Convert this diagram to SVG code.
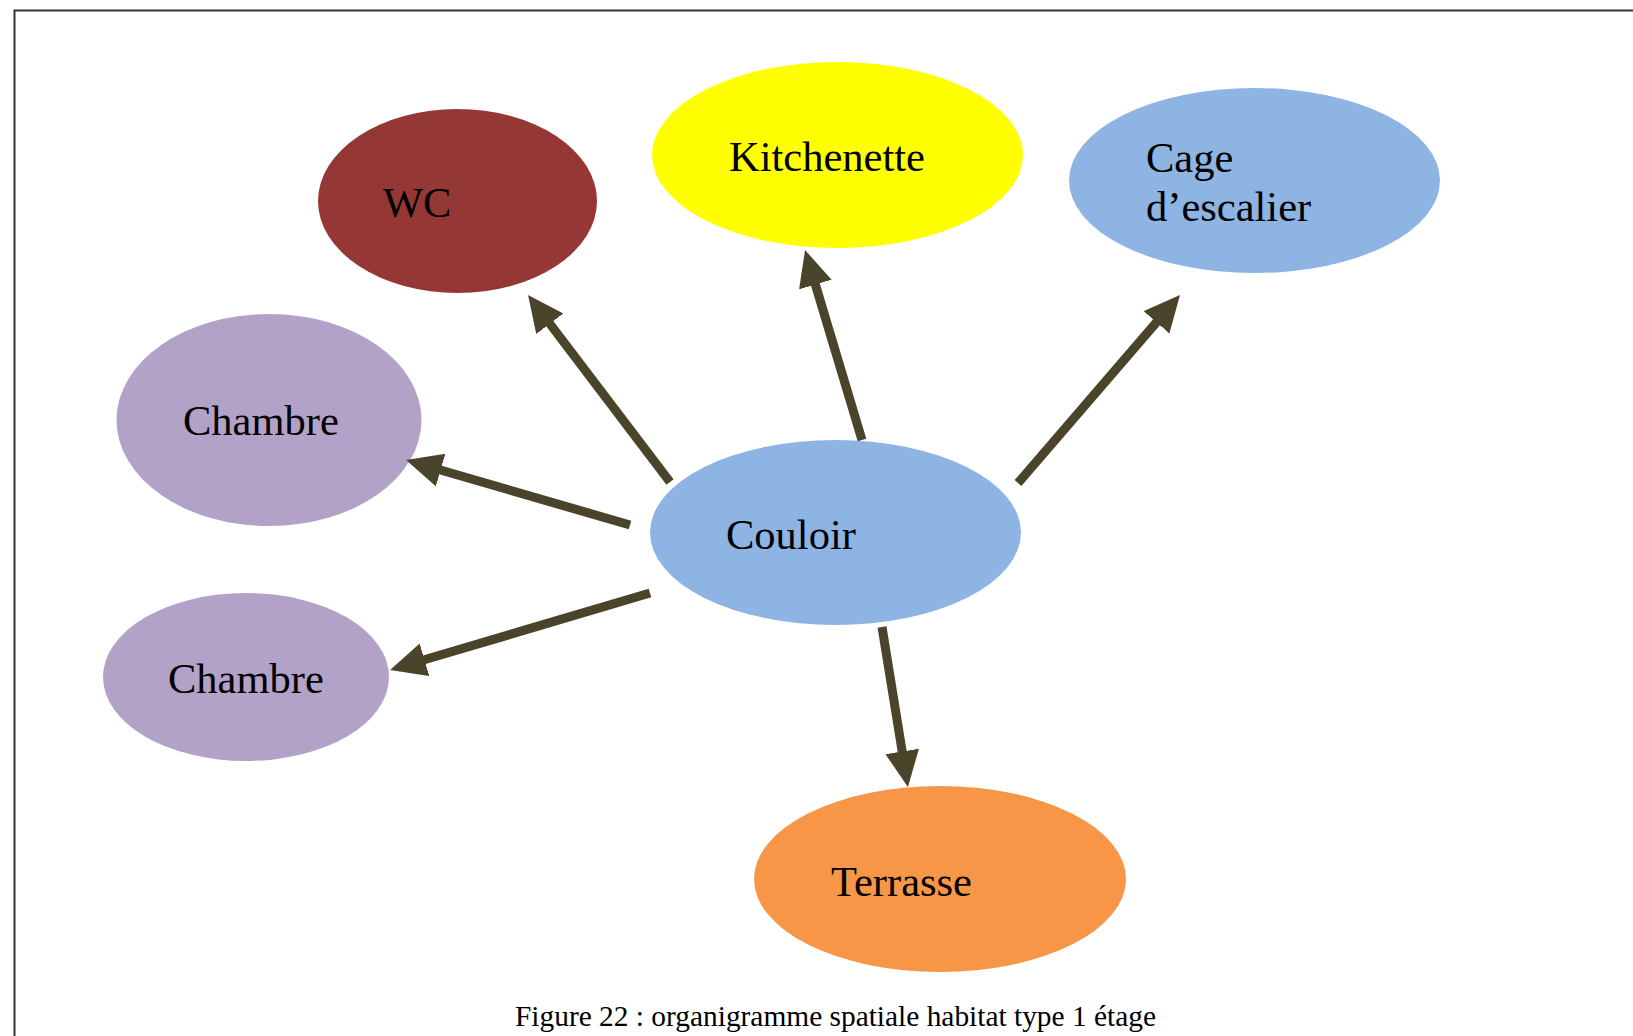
<svg xmlns="http://www.w3.org/2000/svg" width="1633" height="1036" viewBox="0 0 1633 1036">
<style>
.lbl{font-family:"Liberation Serif","Times New Roman",serif;font-size:42.5px;fill:#000}
.cap{font-family:"Liberation Serif","Times New Roman",serif;font-size:29.4px;fill:#000}
.arr{stroke:#4A452A;stroke-width:9;fill:none;marker-end:url(#ah)}
</style>
<defs>
<marker id="ah" markerUnits="userSpaceOnUse" markerWidth="40" markerHeight="36" refX="2" refY="17" orient="auto">
<path d="M0,0 L36,17 L0,34 z" fill="#4A452A"/>
</marker>
</defs>
<rect width="1633" height="1036" fill="#fff"/>
<path d="M14.5,1036 L14.5,10.5 L1633,10.5" fill="none" stroke="#333" stroke-width="2"/>
<g id="wc"><ellipse cx="457.5" cy="201" rx="139.5" ry="92" fill="#953735"/><text class="lbl" x="383" y="217">WC</text></g>
<g id="kitchenette"><ellipse cx="837.5" cy="155" rx="185.5" ry="93" fill="#FFFF00"/><text class="lbl" x="729" y="171">Kitchenette</text></g>
<g id="cage"><ellipse cx="1254.5" cy="180.5" rx="185.5" ry="92.5" fill="#8EB4E3"/><text class="lbl" x="1146" y="172">Cage</text><text class="lbl" x="1146" y="221">d’escalier</text></g>
<g id="chambre1"><ellipse cx="269" cy="420" rx="152.5" ry="106" fill="#B3A2C7"/><text class="lbl" x="183" y="435">Chambre</text></g>
<g id="couloir"><ellipse cx="835.5" cy="532.5" rx="185.5" ry="92.5" fill="#8EB4E3"/><text class="lbl" x="726" y="549">Couloir</text></g>
<g id="chambre2"><ellipse cx="246" cy="677" rx="143" ry="84" fill="#B3A2C7"/><text class="lbl" x="168" y="693">Chambre</text></g>
<g id="terrasse"><ellipse cx="940" cy="879" rx="186" ry="93" fill="#F79646"/><text class="lbl" x="831" y="896">Terrasse</text></g>
<g id="connectors">
<line class="arr" x1="670" y1="482" x2="548.6" y2="322.1"/>
<line class="arr" x1="630" y1="525" x2="438.7" y2="469.5"/>
<line class="arr" x1="650" y1="593" x2="422.6" y2="660.3"/>
<line class="arr" x1="882" y1="627" x2="902.5" y2="753.4"/>
<line class="arr" x1="862" y1="440" x2="814.8" y2="282.6"/>
<line class="arr" x1="1018" y1="483" x2="1157.8" y2="320.8"/>
</g>
<text class="cap" x="515" y="1026">Figure 22 : organigramme spatiale habitat type 1 étage</text>
</svg>
